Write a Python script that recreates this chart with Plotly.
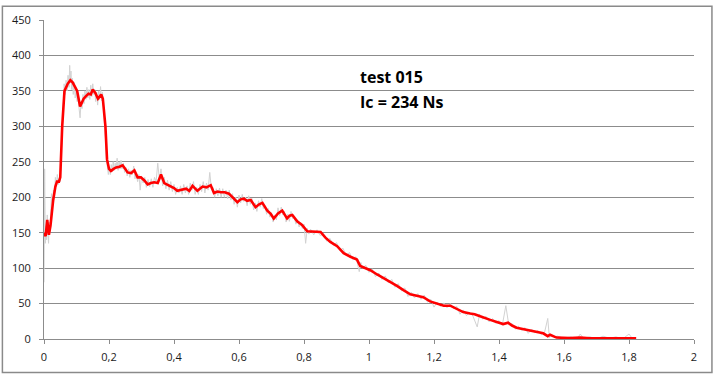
import plotly.graph_objects as go

# Smoothed (red) series
red_t = [0.000, 0.005, 0.010, 0.015, 0.020, 0.028, 0.035, 0.040, 0.046, 0.050, 0.056, 0.063, 0.073, 0.081, 0.088,
         0.094, 0.102, 0.111, 0.122, 0.130, 0.137, 0.144, 0.150, 0.158, 0.166, 0.176, 0.181, 0.189, 0.194, 0.200,
         0.206, 0.214, 0.222, 0.232, 0.242, 0.250, 0.257, 0.268, 0.278, 0.288, 0.298, 0.308, 0.319, 0.329, 0.339,
         0.350, 0.360, 0.370, 0.380, 0.390, 0.400, 0.410, 0.420, 0.437, 0.447, 0.457, 0.472, 0.488, 0.500, 0.513,
         0.523, 0.534, 0.544, 0.556, 0.569, 0.580, 0.595, 0.605, 0.615, 0.625, 0.636, 0.651, 0.662, 0.672, 0.687,
         0.697, 0.707, 0.720, 0.733, 0.741, 0.748, 0.756, 0.764, 0.779, 0.794, 0.810, 0.830, 0.851, 0.866, 0.881,
         0.902, 0.922, 0.943, 0.963, 0.973, 0.990, 1.004, 1.025, 1.045, 1.066, 1.086, 1.106, 1.127, 1.147, 1.167,
         1.188, 1.209, 1.230, 1.250, 1.270, 1.290, 1.311, 1.325, 1.342, 1.357, 1.373, 1.393, 1.413, 1.428, 1.440,
         1.454, 1.475, 1.495, 1.515, 1.536, 1.550, 1.557, 1.577, 1.600, 1.618, 1.650, 1.680, 1.720, 1.760, 1.800,
         1.822]
red_y = [150, 145, 168, 147, 160, 195, 215, 222, 222, 228, 300, 350, 360, 365, 362,
         357, 350, 328, 339, 343, 346, 345, 352, 347, 339, 345, 339, 300, 253, 240,
         237, 240, 242, 243, 245, 240, 235, 234, 238, 228, 228, 224, 218, 220, 221,
         220, 232, 220, 218, 216, 213, 209, 210, 212, 209, 216, 209, 215, 214, 217,
         206, 208, 207, 207, 205, 200, 193, 197, 198, 195, 196, 186, 190, 192, 181,
         177, 170, 177, 181, 175, 170, 174, 175, 166, 161, 152, 151, 151, 143, 137,
         131, 121, 116, 112, 103, 100, 97, 91, 86, 80, 75, 69, 63, 61, 59,
         53, 50, 47, 47, 43, 38, 36, 35, 32, 30, 27, 24, 21, 23, 19,
         16, 14, 12, 10, 8, 4, 6, 2, 1.5, 1.5, 2, 1, 1, 1, 1.5,
         1]

# Raw (grey) measurement series
raw_t = [0.000, 0.002, 0.004, 0.006, 0.008, 0.010, 0.012, 0.014, 0.016, 0.018, 0.020, 0.023, 0.026, 0.029, 0.032,
         0.035, 0.038, 0.041, 0.044, 0.047, 0.050, 0.053, 0.056, 0.059, 0.062, 0.065, 0.068, 0.071, 0.074, 0.077,
         0.079, 0.081, 0.083, 0.085, 0.087, 0.090, 0.093, 0.096, 0.099, 0.102, 0.105, 0.108, 0.111, 0.114, 0.117,
         0.120, 0.123, 0.126, 0.129, 0.132, 0.135, 0.138, 0.141, 0.144, 0.147, 0.150, 0.153, 0.156, 0.159, 0.162,
         0.165, 0.168, 0.171, 0.174, 0.177, 0.180, 0.183, 0.186, 0.189, 0.192, 0.195, 0.198, 0.201, 0.204, 0.207,
         0.210, 0.213, 0.216, 0.219, 0.222, 0.225, 0.228, 0.231, 0.234, 0.237, 0.240, 0.244, 0.248, 0.252, 0.256,
         0.260, 0.264, 0.268, 0.272, 0.276, 0.280, 0.284, 0.288, 0.292, 0.296, 0.300, 0.305, 0.310, 0.315, 0.320,
         0.325, 0.330, 0.335, 0.340, 0.345, 0.350, 0.355, 0.360, 0.365, 0.370, 0.375, 0.380, 0.385, 0.390, 0.395,
         0.400, 0.405, 0.410, 0.415, 0.420, 0.425, 0.430, 0.435, 0.440, 0.445, 0.450, 0.455, 0.460, 0.465, 0.470,
         0.475, 0.480, 0.485, 0.490, 0.495, 0.500, 0.505, 0.510, 0.515, 0.520, 0.525, 0.530, 0.535, 0.540, 0.545,
         0.550, 0.555, 0.560, 0.565, 0.570, 0.575, 0.580, 0.585, 0.590, 0.595, 0.600, 0.605, 0.610, 0.615, 0.620,
         0.625, 0.630, 0.635, 0.640, 0.645, 0.650, 0.655, 0.660, 0.665, 0.670, 0.675, 0.680, 0.685, 0.690, 0.695,
         0.700, 0.705, 0.710, 0.715, 0.720, 0.725, 0.730, 0.735, 0.740, 0.745, 0.750, 0.755, 0.760, 0.765, 0.770,
         0.775, 0.780, 0.785, 0.790, 0.795, 0.800, 0.805, 0.810, 0.815, 0.820, 0.830, 0.840, 0.850, 0.860, 0.870,
         0.880, 0.890, 0.900, 0.910, 0.920, 0.930, 0.940, 0.950, 0.960, 0.970, 0.975, 0.980, 0.990, 1.000, 1.010,
         1.020, 1.030, 1.040, 1.050, 1.060, 1.070, 1.080, 1.090, 1.100, 1.110, 1.120, 1.130, 1.140, 1.150, 1.160,
         1.170, 1.180, 1.190, 1.200, 1.210, 1.220, 1.230, 1.240, 1.250, 1.260, 1.270, 1.280, 1.290, 1.300, 1.310,
         1.320, 1.333, 1.340, 1.350, 1.360, 1.370, 1.380, 1.390, 1.400, 1.410, 1.421, 1.430, 1.440, 1.450, 1.460,
         1.470, 1.480, 1.490, 1.500, 1.510, 1.520, 1.530, 1.540, 1.550, 1.555, 1.560, 1.570, 1.580, 1.600, 1.620,
         1.640, 1.650, 1.660, 1.680, 1.700, 1.720, 1.740, 1.760, 1.780, 1.800, 1.810, 1.822]
raw_y = [80, 240, 135, 160, 140, 175, 150, 135, 165, 150, 170, 205, 185, 210, 200,
         228, 215, 232, 218, 226, 222, 260, 310, 340, 360, 345, 365, 350, 372, 355,
         386, 362, 378, 352, 368, 345, 362, 340, 352, 335, 345, 325, 312, 335, 325,
         345, 332, 350, 338, 355, 340, 352, 338, 358, 342, 360, 345, 352, 335, 348,
         330, 350, 338, 356, 336, 348, 330, 310, 285, 255, 245, 232, 242, 232, 246,
         236, 250, 238, 248, 240, 255, 238, 250, 240, 252, 240, 248, 235, 242, 230,
         240, 228, 238, 232, 244, 226, 234, 222, 232, 210, 230, 220, 228, 214, 225,
         215, 226, 214, 228, 222, 248, 225, 240, 216, 228, 212, 224, 210, 222, 208,
         218, 204, 214, 206, 216, 204, 218, 206, 216, 204, 220, 210, 222, 204, 214,
         204, 218, 208, 222, 206, 220, 210, 235, 212, 214, 200, 212, 202, 213, 200,
         212, 200, 210, 198, 210, 196, 205, 190, 200, 186, 203, 192, 204, 194, 200,
         188, 202, 190, 198, 182, 192, 180, 195, 186, 198, 184, 188, 176, 184, 172,
         178, 165, 175, 168, 185, 174, 186, 175, 180, 165, 176, 166, 180, 170, 172,
         162, 168, 158, 164, 156, 162, 135, 156, 148, 155, 147, 154, 146, 148, 138,
         142, 132, 136, 125, 128, 118, 122, 112, 116, 95, 108, 100, 104, 94, 99,
         88, 93, 84, 89, 79, 84, 73, 78, 68, 72, 60, 66, 58, 64, 56,
         62, 52, 56, 45, 52, 46, 51, 44, 50, 43, 46, 35, 41, 33, 38,
         32, 17, 35, 28, 32, 24, 29, 22, 26, 19, 47, 20, 22, 14, 18,
         12, 16, 8, 14, 9, 12, 6, 9, 29, 2, 7, 3, 4, 1, 3,
         0, 7, 1, 3, 0, 4, 1, 3, 0, 7, 1, 2]

x_ticks = [0, 0.2, 0.4, 0.6, 0.8, 1, 1.2, 1.4, 1.6, 1.8, 2]
x_tick_text = ["0", "0,2", "0,4", "0,6", "0,8", "1", "1,2", "1,4", "1,6", "1,8", "2"]
y_ticks = [0, 50, 100, 150, 200, 250, 300, 350, 400, 450]

annotation_lines = ["test 015", "Ic = 234 Ns"]

fig = go.Figure()
fig.add_trace(go.Scatter(x=raw_t, y=raw_y, mode="lines",
                         line=dict(color="#d2d2d2", width=1), showlegend=False))
fig.add_trace(go.Scatter(x=red_t, y=red_y, mode="lines",
                         line=dict(color="#ff0000", width=2.6), showlegend=False))

grid_col = "#8c8c8c"
fig.update_layout(
    width=717, height=377,
    margin=dict(l=43, r=23, t=15, b=38),
    paper_bgcolor="white", plot_bgcolor="white",
    font=dict(family="Open Sans, Noto Sans, sans-serif", size=11, color="#1a1a1a"),
    xaxis=dict(range=[0, 2], tickvals=x_ticks, ticktext=x_tick_text,
               showgrid=False, zeroline=False, showline=True, linecolor=grid_col, linewidth=1,
               ticks="outside", ticklen=4, tickcolor=grid_col, ticklabelstandoff=4),
    yaxis=dict(range=[0, 450], tickvals=y_ticks,
               showgrid=True, gridcolor=grid_col, gridwidth=1, zeroline=False,
               showline=True, linecolor=grid_col, linewidth=1,
               ticks="outside", ticklen=4, tickcolor=grid_col, ticklabelstandoff=6),
    shapes=[dict(type="rect", xref="paper", yref="paper",
                 x0=-0.064, x1=1.0276, y0=-0.105, y1=1.043,
                 line=dict(color="#8a8a8a", width=1.5), layer="below")],
)

for i, (txt, yv) in enumerate(zip(annotation_lines, [369, 335])):
    fig.add_annotation(x=0.966, y=yv, xref="x", yref="y", text="<b>" + txt + "</b>",
                       showarrow=False, xanchor="left", yanchor="middle",
                       font=dict(family="Open Sans, sans-serif", size=16, color="#000000"))

fig.write_html("out.html", config={"displayModeBar": False},
               post_script="document.body.style.margin='0';")
